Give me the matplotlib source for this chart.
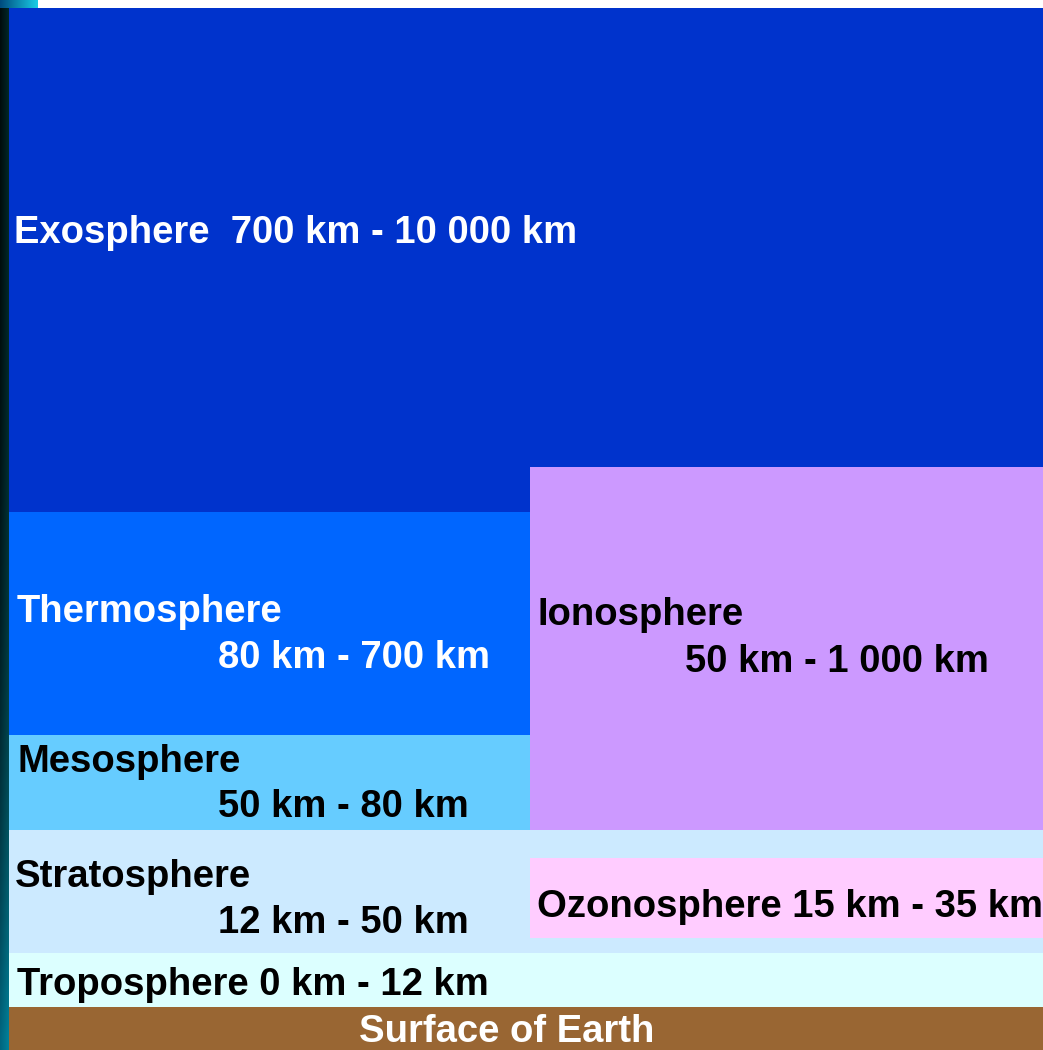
import numpy as np
import matplotlib
matplotlib.use('Agg')
import matplotlib.pyplot as plt

plt.rcParams['font.family'] = ['Liberation Sans', 'DejaVu Sans']

# layers of the atmosphere (name, altitude range text)
layers = ['Exosphere', 'Thermosphere', 'Mesosphere', 'Stratosphere', 'Troposphere']
ranges = ['700 km - 10 000 km', '80 km - 700 km', '50 km - 80 km', '12 km - 50 km', '0 km - 12 km']
side_layers = ['Ionosphere', 'Ozonosphere']
side_ranges = ['50 km - 1 000 km', '15 km - 35 km']
ground = 'Surface of Earth'

# layout in pixels (diagram is not to scale)
W, H = 1043, 1050
left_x0 = 9
split_x = 530
band_top = [8, 512, 735, 830, 953]
band_bot = [512, 735, 830, 953, 1007]
band_x1 = [W, split_x, split_x, W, W]
band_col = ['#0033cc', '#0066ff', '#66ccff', '#cceaff', '#dcffff']
side_top = [467, 858]
side_bot = [830, 938]
side_col = ['#cc99ff', '#ffccff']
ground_col = '#996633'

fig = plt.figure(figsize=(W / 100, H / 100), dpi=100)
ax = fig.add_axes([0, 0, 1, 1])
ax.set_xlim(0, W)
ax.set_ylim(H, 0)
ax.axis('off')

# white top strip and dark left edge
ax.bar(0, H, width=W, bottom=0, align='edge', color='white', linewidth=0)
grad = np.linspace(0, 1, 50).reshape(-1, 1) * np.ones((1, 10))
edge = np.zeros((50, 10, 3))
edge[..., 1] = 0.05 + 0.1 * np.linspace(0, 1, 10)[None, :] + 0.35 * grad ** 3
edge[..., 2] = 0.05 + 0.1 * np.linspace(0, 1, 10)[None, :] + 0.45 * grad ** 3
ax.imshow(edge, extent=[0, left_x0, H, 0], aspect='auto', zorder=1)
top = np.zeros((2, 40, 3))
t = np.linspace(0, 1, 40)
top[..., 0] = 0.1 * t
top[..., 1] = 0.3 + 0.5 * t
top[..., 2] = 0.5 + 0.4 * t
ax.imshow(top, extent=[0, 38, 8, 0], aspect='auto', zorder=1)

for i in range(len(layers)):
    ax.bar(left_x0, band_bot[i] - band_top[i], width=band_x1[i] - left_x0,
           bottom=band_top[i], align='edge', color=band_col[i], linewidth=0, zorder=2)
for i in range(len(side_layers)):
    ax.bar(split_x, side_bot[i] - side_top[i], width=W - split_x,
           bottom=side_top[i], align='edge', color=side_col[i], linewidth=0, zorder=2)
ax.bar(left_x0, H - 1007, width=W - left_x0, bottom=1007, align='edge',
       color=ground_col, linewidth=0, zorder=2)

fs = 27.5
kw = dict(fontsize=fs, fontweight='bold', va='baseline', ha='left', zorder=3)
ax.text(14, 243, layers[0] + '  ' + ranges[0], color='white', **kw)
ax.text(17, 622, layers[1], color='white', **kw)
ax.text(218, 668, ranges[1], color='white', **kw)
ax.text(17, 772, layers[2], color='black', **kw)
ax.text(218, 817, ranges[2], color='black', **kw)
ax.text(15, 887, layers[3], color='black', **kw)
ax.text(218, 933, ranges[3], color='black', **kw)
ax.text(17, 995, layers[4] + ' ' + ranges[4], color='black', **kw)
ax.text(538, 625, side_layers[0], color='black', **kw)
ax.text(685, 672, side_ranges[0], color='black', **kw)
ax.text(537, 917, side_layers[1] + ' ' + side_ranges[1], color='black', clip_on=True, **kw)
ax.text(507, 1042, ground, color='white', fontsize=fs, fontweight='bold',
        va='baseline', ha='center', zorder=3)

fig.savefig('out.png', dpi=100)
